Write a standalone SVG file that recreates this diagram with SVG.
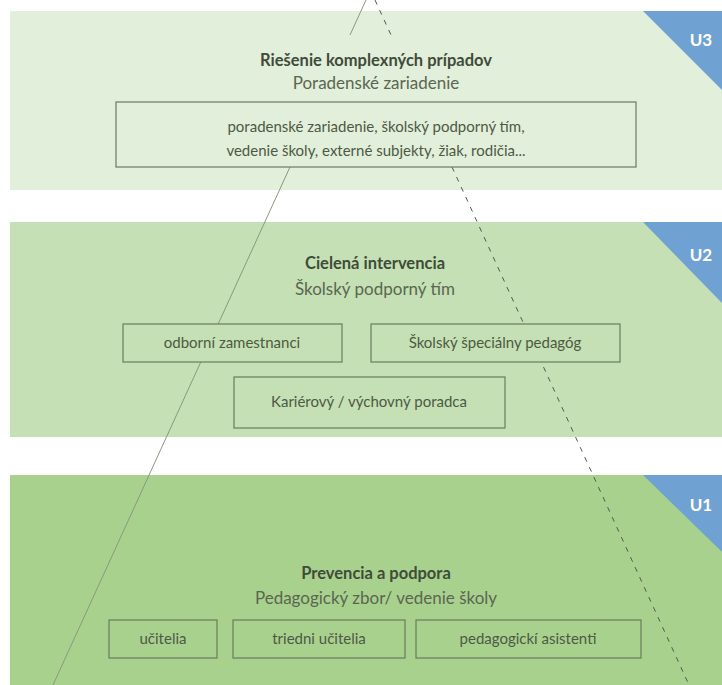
<svg xmlns="http://www.w3.org/2000/svg" width="722" height="685" viewBox="0 0 722 685">
<style>
.band3{fill:#e2efda}
.band2{fill:#c5e0b4}
.band1{fill:#a9d18e}
.tri{fill:#6fa2d2}
.ulab{font-family:Lato,"Open Sans",sans-serif;font-weight:bold;font-size:17px;fill:#ffffff;text-anchor:middle}
.title{font-family:Lato,"Open Sans",sans-serif;font-weight:bold;font-size:16.5px;fill:#404b39;text-anchor:middle}
.sub{font-family:Lato,"Open Sans",sans-serif;font-size:17px;fill:#5a6651;text-anchor:middle}
.bt{font-family:Lato,"Open Sans",sans-serif;font-size:15px;fill:#4d5945;text-anchor:middle}
.box{stroke:#6b7a5f;stroke-width:1.2}
.solid{stroke:#8a9880;stroke-width:1;fill:none}
.dash{stroke:#555555;stroke-width:1;stroke-dasharray:5,6;fill:none}
</style>
<rect width="722" height="685" fill="#ffffff"/>
<g id="u3">
<rect class="band3" x="10" y="11" width="712" height="179"/>
<polygon class="tri" points="643,11 722,11 722,90"/>
<text class="ulab" x="701" y="46">U3</text>
<text class="title" x="376" y="66">Riešenie komplexných prípadov</text>
<text class="sub" x="376" y="89">Poradenské zariadenie</text>
</g>
<g id="u2">
<rect class="band2" x="10" y="222" width="712" height="215"/>
<polygon class="tri" points="643,222 722,222 722,303"/>
<text class="ulab" x="701" y="261">U2</text>
<text class="title" x="375" y="269">Cielená intervencia</text>
<text class="sub" x="375" y="295">Školský podporný tím</text>
</g>
<g id="u1">
<rect class="band1" x="10" y="475" width="712" height="210"/>
<polygon class="tri" points="643,475 722,475 722,552"/>
<text class="ulab" x="701" y="511">U1</text>
<text class="title" x="376" y="579">Prevencia a podpora</text>
<text class="sub" x="376" y="604">Pedagogický zbor/ vedenie školy</text>
</g>
<g id="connectors">
<line class="solid" x1="366" y1="0" x2="350" y2="35"/>
<line class="solid" x1="290" y1="167" x2="53" y2="685"/>
<line class="dash" x1="375" y1="0" x2="391" y2="35"/>
<line class="dash" x1="452" y1="167" x2="689" y2="685"/>
</g>
<g id="box-u3">
<rect class="box band3" x="116" y="102" width="520" height="65"/>
<text class="bt" x="376" y="132">poradenské zariadenie, školský podporný tím,</text>
<text class="bt" x="376" y="156">vedenie školy, externé subjekty, žiak, rodičia...</text>
</g>
<g id="box-odborni">
<rect class="box band2" x="123" y="324" width="219" height="38"/>
<text class="bt" x="232" y="348">odborní zamestnanci</text>
</g>
<g id="box-spec">
<rect class="box band2" x="371" y="324" width="249" height="38"/>
<text class="bt" x="495" y="348">Školský špeciálny pedagóg</text>
</g>
<g id="box-kariera">
<rect class="box band2" x="234" y="377" width="271" height="51"/>
<text class="bt" x="369" y="407">Kariérový / výchovný poradca</text>
</g>
<g id="box-ucitelia">
<rect class="box band1" x="109" y="620" width="108" height="38"/>
<text class="bt" x="163" y="644">učitelia</text>
</g>
<g id="box-triedni">
<rect class="box band1" x="233" y="620" width="172" height="38"/>
<text class="bt" x="319" y="644">triedni učitelia</text>
</g>
<g id="box-asistenti">
<rect class="box band1" x="416" y="620" width="225" height="38"/>
<text class="bt" x="528" y="644">pedagogickí asistenti</text>
</g>
</svg>
